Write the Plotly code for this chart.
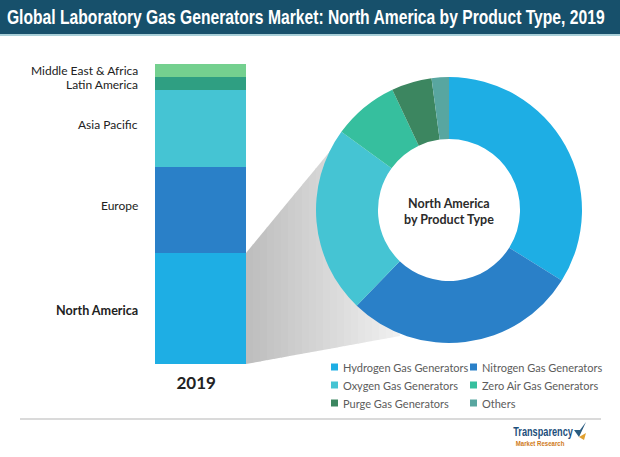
import plotly.graph_objects as go

W, H = 620, 457
regions = ["North America", "Europe", "Asia Pacific", "Latin America", "Middle East & Africa"]
region_values = [37.0, 28.7, 25.6, 4.4, 4.3]
region_colors = ["#1eaee4", "#2a80c8", "#45c4d3", "#2f9f82", "#74d08f"]
region_label_y = [310, 205, 124, 85, 70]

products = ["Hydrogen Gas Generators", "Nitrogen Gas Generators", "Oxygen Gas Generators",
            "Zero Air Gas Generators", "Purge Gas Generators", "Others"]
product_values = [33.9, 28.3, 22.8, 8.0, 4.9, 2.1]
product_colors = ["#1eaee4", "#2a80c8", "#45c4d3", "#36bf9e", "#3c8660", "#58a6a0"]

def px(x): return x / W
def py(y): return 1 - y / H

fig = go.Figure()
for name, val, col in zip(regions, region_values, region_colors):
    fig.add_trace(go.Bar(x=["2019"], y=[val], name=name, marker=dict(color=col, line_width=0),
                         showlegend=False, hoverinfo="skip"))
fig.add_trace(go.Pie(labels=products, values=product_values, sort=False, direction="clockwise",
                     rotation=0, hole=0.534, marker=dict(colors=product_colors, line_width=0),
                     textinfo="none", showlegend=False, hoverinfo="skip",
                     domain=dict(x=[px(316), px(582)], y=[py(343), py(77)])))

shapes = []
shapes.append(dict(type="rect", xref="paper", yref="paper", x0=0, x1=1, y0=py(34), y1=1,
                   fillcolor="#17506b", line_width=0, layer="below"))
shapes.append(dict(type="rect", xref="paper", yref="paper", x0=0, x1=1, y0=py(36), y1=py(34),
                   fillcolor="#a9cfd8", line_width=0, layer="below"))
shapes.append(dict(type="line", xref="paper", yref="paper", x0=px(20), x1=px(601), y0=py(419), y1=py(419),
                   line=dict(color="#b5b5b5", width=1), layer="below"))

# grey gradient funnel from bar to donut
x0, x1 = 246.0, 400.0
tl, tr = (246.0, 253.0), (345.0, 133.0)
bl, br = (246.0, 364.0), (400.0, 336.0)
def top(x):
    if x <= tr[0]:
        return tl[1] + (tr[1] - tl[1]) * (x - tl[0]) / (tr[0] - tl[0])
    return tr[1] + (br[1] - tr[1]) * (x - tr[0]) / (br[0] - tr[0])
def bot(x):
    return bl[1] + (br[1] - bl[1]) * (x - bl[0]) / (br[0] - bl[0])
n = 22
for i in range(n):
    a = x0 + (x1 - x0) * i / n
    b = min(x0 + (x1 - x0) * (i + 1) / n + 0.4, x1)
    t = i / (n - 1)
    g = int(190 + (240 - 190) * t)
    pts = [(a, top(a)), (b, top(b)), (b, bot(b)), (a, bot(a))]
    if a < tr[0] < b:
        pts.insert(1, tr)
    path = "M" + " L".join(f"{px(p[0]):.5f},{py(p[1]):.5f}" for p in pts) + " Z"
    shapes.append(dict(type="path", xref="paper", yref="paper", path=path,
                       fillcolor=f"rgb({g},{g},{g})", line_width=0, layer="below"))

ann = []
fit = {}  # annotation index -> target text width in px (condensed faces are not installed)
def text(x, y, s, size, color, anchor="left", family="Lato", width=None):
    if width:
        fit[len(ann)] = width
    ann.append(dict(xref="paper", yref="paper", x=px(x), y=py(y), text=s, showarrow=False,
                    xanchor=anchor, yanchor="middle", align="center",
                    font=dict(family=family, size=size, color=color)))

text(306, 17, "<b>Global Laboratory Gas Generators Market: North America by Product Type, 2019</b>",
     20, "#ffffff", "center", family="Liberation Sans", width=598)
for name, y in zip(regions, region_label_y):
    if name == "North America":
        text(140, y, f"<b>{name}</b>", 12.6, "#222222", "right")
    else:
        text(140, y, name, 12, "#222222", "right")
text(449, 211, "<b>North America<br>by Product Type</b>", 12.5, "#2b2b2b", "center")

leg_pos = [(331, 367), (470, 367), (331, 385), (470, 385), (331, 403), (470, 403)]
for (name, col, (lx, ly)) in zip(products, product_colors, leg_pos):
    shapes.append(dict(type="rect", xref="paper", yref="paper", x0=px(lx), x1=px(lx + 7),
                       y0=py(ly + 3.5), y1=py(ly - 3.5), fillcolor=col, line_width=0))
    text(lx + 10, ly, name, 11, "#5c5c5c")

# logo
text(543, 432, "<b>Transparency</b>", 12, "#1d4f7c", "center", family="Liberation Sans", width=60)
text(540, 443, "<b>Market Research</b>", 7.5, "#cf7a20", "center", family="Liberation Sans", width=49)
shapes.append(dict(type="path", xref="paper", yref="paper",
                   path=f"M{px(574)},{py(430)} L{px(579)},{py(437)} L{px(586)},{py(422)} L{px(580)},{py(430)} Z",
                   fillcolor="#2a5c80", line_width=0))
shapes.append(dict(type="path", xref="paper", yref="paper",
                   path=f"M{px(579)},{py(437)} L{px(584)},{py(440)} L{px(586)},{py(433)} Z",
                   fillcolor="#e0a030", line_width=0))

fig.update_layout(
    width=W, height=H, margin=dict(l=0, r=0, t=0, b=0), paper_bgcolor="white", plot_bgcolor="white",
    barmode="stack", bargap=0, shapes=shapes, annotations=ann,
    xaxis=dict(domain=[px(155), px(246)], type="category", showgrid=False, zeroline=False, showline=False,
               ticks="", tickfont=dict(family="Lato", size=17, color="#222222"),
               tickprefix="<b>", ticksuffix="</b>&nbsp;&nbsp;", ticklabelstandoff=7),
    yaxis=dict(domain=[py(364), py(64)], range=[0, 100], visible=False),
)
post = """
document.body.style.margin='0';
var fit = %s;
var nodes = document.querySelectorAll('.annotation-text');
Object.keys(fit).forEach(function(k){
  var t = nodes[+k];
  if (!t) return;
  var b = t.getBBox();
  var cx = b.x + b.width / 2;
  var sx = fit[k] / b.width;
  t.setAttribute('transform', 'translate(' + cx + ',0) scale(' + sx + ',1) translate(' + (-cx) + ',0)');
});
""" % str(fit).replace("'", '"')
fig.write_html("out.html", post_script=post, config=dict(displayModeBar=False))
